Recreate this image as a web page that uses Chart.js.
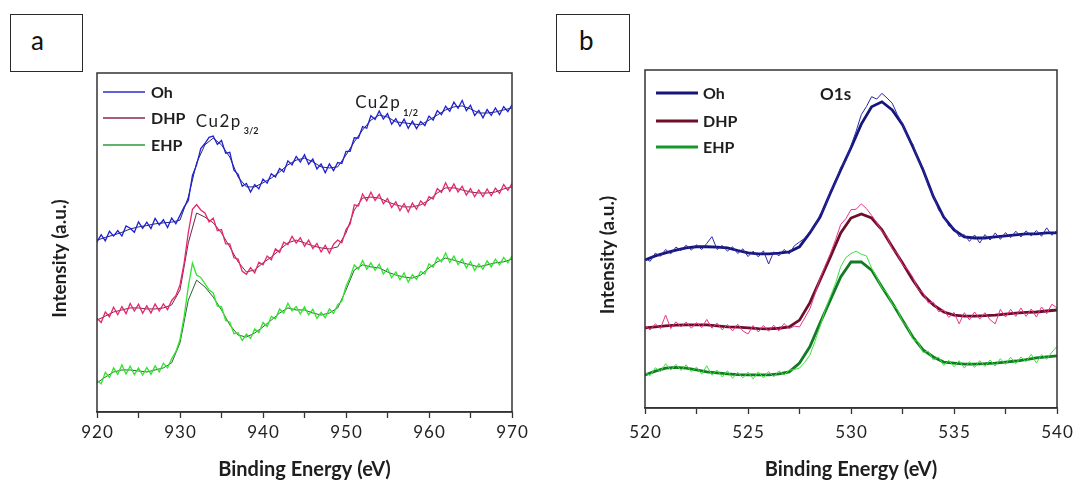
<!DOCTYPE html>
<html>
<head>
<meta charset="utf-8">
<script src="https://cdn.jsdelivr.net/npm/chart.js@4.4.1/dist/chart.umd.min.js"></script>
<style>
  body { margin: 0; background: #fff; width: 1073px; height: 482px; overflow: hidden; position: relative; font-family: Lato, sans-serif; }
  .panel { position: absolute; top: 0; height: 482px; }
  .tag { position: absolute; top: 14px; height: 58px; border: 1.6px solid #2a2a2a; box-sizing: border-box;
         font: 26px Lato, sans-serif; color: #111; line-height: 50px; }
</style>
</head>
<body>
<div class="tag" style="left:10px;width:73px;padding-left:20px">a</div>
<div class="tag" style="left:556px;width:74px;padding-left:22px">b</div>
<div class="panel" style="left:0;width:540px"><canvas id="cuChart" width="540" height="482"></canvas></div>
<div class="panel" style="left:540px;width:533px"><canvas id="oChart" width="533" height="482"></canvas></div>
<script>
// ---- panel a: Cu 2p ----
// fitted envelopes, 1 eV steps from 920 to 970
const ohFitA  = [50.7, 51.5, 52.2, 53.0, 54.0, 54.6, 55.0, 55.5, 55.8, 56.0,
                 56.6, 63.4, 73.5, 78.8, 80.8, 78.8, 75.2, 69.3, 66.4, 66.4,
                 67.6, 69.0, 70.8, 72.9, 74.3, 74.9, 73.8, 72.3, 72.0, 72.3,
                 75.8, 79.7, 83.2, 86.1, 87.6, 87.0, 85.6, 85.3, 85.0, 84.7,
                 86.1, 87.6, 89.1, 90.0, 90.3, 89.4, 88.2, 88.2, 88.5, 89.1, 89.7];
const dhpFitA = [27.1, 28.3, 29.5, 30.1, 30.7, 30.7, 30.4, 30.4, 30.7, 31.6,
                 36.0, 49.9, 58.7, 57.5, 55.8, 52.8, 48.7, 44.3, 41.3, 41.9,
                 44.0, 45.7, 47.8, 49.9, 50.7, 49.9, 49.0, 48.4, 48.1, 48.7,
                 52.8, 59.6, 63.1, 63.4, 63.1, 62.0, 61.1, 60.5, 60.5, 61.1,
                 62.5, 64.6, 66.1, 66.1, 65.5, 64.9, 64.6, 64.6, 64.9, 65.8, 66.4];
const ehpFitA = [8.6, 10.3, 11.8, 12.4, 12.4, 12.1, 11.8, 12.4, 13.0, 14.5,
                 20.4, 33.0, 38.9, 36.9, 33.9, 30.1, 25.7, 22.7, 22.1, 23.3,
                 25.1, 27.1, 29.2, 30.7, 30.1, 30.1, 29.2, 28.6, 29.2, 30.7,
                 36.0, 41.9, 43.4, 42.8, 42.5, 41.3, 40.4, 39.8, 39.5, 40.4,
                 42.5, 44.3, 45.4, 44.8, 44.0, 43.4, 42.8, 43.4, 44.0, 44.3, 45.1];
// measured spectra, 0.5 eV steps from 920 to 970
const ohRawA  = [50.2, 52.3, 50.5, 53.3, 51.9, 53.5, 51.9, 54.9, 54.2, 53.0,
                 56.1, 54.2, 56.0, 54.1, 57.1, 55.2, 56.7, 54.4, 57.2, 55.5,
                 58.0, 60.5, 62.4, 69.8, 72.9, 77.7, 79.2, 81.0, 81.4, 78.9,
                 80.1, 76.3, 76.6, 71.3, 70.1, 66.6, 67.4, 64.9, 67.1, 65.8,
                 68.7, 67.5, 70.3, 69.3, 71.8, 70.8, 74.1, 72.9, 75.4, 73.7,
                 75.9, 73.1, 74.6, 71.7, 73.2, 70.6, 73.2, 71.2, 73.6, 73.3,
                 76.9, 76.9, 80.9, 80.8, 84.2, 83.7, 87.4, 86.3, 88.8, 86.4,
                 88.0, 84.9, 86.5, 84.3, 86.4, 83.7, 85.8, 83.6, 85.7, 84.5,
                 87.3, 86.1, 88.9, 87.7, 90.2, 88.7, 91.4, 89.6, 91.9, 88.9,
                 90.5, 87.5, 89.0, 86.8, 89.2, 87.5, 89.7, 87.7, 90.1, 88.6, 90.6];
const dhpRawA = [27.7, 26.4, 29.5, 28.1, 30.9, 28.7, 31.1, 29.0, 32.0, 29.8,
                 31.8, 29.1, 31.3, 29.2, 31.9, 29.8, 31.9, 30.2, 32.9, 34.3,
                 37.5, 44.0, 52.9, 59.8, 61.2, 59.6, 58.7, 56.1, 57.2, 53.5,
                 53.8, 49.6, 49.6, 45.5, 45.1, 41.5, 40.6, 42.6, 41.0, 44.2,
                 43.4, 46.0, 44.9, 48.1, 47.1, 50.1, 49.4, 51.8, 49.8, 51.4,
                 48.9, 50.7, 48.2, 49.7, 47.2, 49.2, 46.8, 49.5, 50.7, 49.9,
                 53.8, 55.5, 61.1, 60.8, 64.3, 62.3, 64.8, 62.4, 64.2, 61.4,
                 63.0, 60.3, 62.0, 59.4, 61.5, 59.0, 61.6, 59.8, 62.3, 60.9,
                 63.5, 62.8, 65.9, 64.8, 67.6, 65.1, 67.3, 64.9, 66.6, 64.0,
                 65.9, 63.5, 65.5, 63.5, 65.8, 63.8, 66.0, 64.5, 67.1, 65.4, 67.4];
const ehpRawA = [9.4, 8.3, 11.7, 10.2, 13.0, 11.1, 13.9, 11.2, 13.5, 11.0,
                 13.0, 10.9, 13.1, 11.1, 13.6, 11.8, 14.4, 13.0, 15.7, 17.8,
                 21.4, 28.2, 37.0, 43.9, 40.4, 39.7, 37.9, 36.0, 35.1, 31.2,
                 31.1, 27.0, 26.5, 23.1, 23.4, 21.1, 23.0, 21.7, 24.5, 23.4,
                 26.4, 25.2, 28.2, 27.5, 30.4, 29.2, 32.1, 29.8, 31.1, 28.9,
                 31.0, 28.7, 30.3, 27.6, 29.4, 27.8, 30.4, 29.1, 31.7, 32.7,
                 37.1, 39.8, 43.4, 42.1, 44.7, 42.1, 44.0, 41.8, 43.6, 40.7,
                 42.3, 39.6, 41.3, 39.0, 41.0, 38.3, 40.5, 39.1, 41.5, 40.7,
                 43.7, 42.7, 45.6, 44.3, 46.9, 44.1, 46.0, 43.5, 45.1, 42.5,
                 44.4, 41.8, 43.7, 42.1, 44.6, 42.8, 45.1, 43.4, 45.6, 44.0, 46.1];

// ---- panel b: O 1s ----
// fitted envelopes, 0.5 eV steps from 520 to 540
const ohFitB  = [43.8, 45.0, 45.9, 46.7, 47.4, 47.7, 47.7, 47.6, 47.4, 46.6,
                 45.9, 45.6, 45.6, 45.8, 46.2, 47.7, 51.8, 56.5, 63.6, 70.4,
                 77.0, 84.0, 89.1, 90.6, 88.2, 83.8, 77.3, 70.4, 62.5, 56.5,
                 52.7, 50.6, 50.3, 50.3, 50.6, 50.9, 51.2, 51.5, 51.5, 51.8, 51.8];
const dhpFitB = [23.7, 24.0, 24.3, 24.5, 24.6, 24.6, 24.6, 24.3, 24.0, 23.9,
                 23.7, 23.5, 23.4, 23.6, 24.0, 26.0, 31.1, 37.9, 44.7, 51.8,
                 56.2, 57.4, 56.2, 52.7, 47.7, 42.9, 37.9, 33.4, 30.5, 28.4,
                 27.5, 27.2, 27.2, 27.3, 27.5, 27.8, 28.1, 28.3, 28.4, 28.7, 29.0];
const ehpFitB = [9.8, 10.9, 11.8, 12.0, 11.8, 11.3, 10.7, 10.4, 10.1, 9.9,
                 9.8, 9.8, 9.8, 10.1, 10.7, 13.3, 18.1, 25.2, 32.0, 38.8,
                 43.2, 43.2, 40.8, 35.8, 31.1, 26.0, 21.0, 17.2, 15.1, 13.6,
                 13.3, 13.0, 13.0, 13.1, 13.3, 13.6, 13.9, 14.3, 14.8, 15.1, 15.4];
// measured spectra, 0.25 eV steps from 520 to 540
const ohRawB  = [44.3, 43.4, 45.8, 44.9, 46.9, 45.6, 47.6, 46.6, 48.2, 46.7, 48.3, 46.9,
                 48.7, 50.7, 46.9, 48.1, 46.4, 47.7, 45.7, 47.1, 44.8, 46.4, 44.7, 46.5,
                 42.6, 46.2, 45.0, 46.9, 45.6, 48.0, 49.1, 50.2, 52.1, 53.8, 57.2, 59.6,
                 64.2, 66.6, 71.2, 73.2, 77.6, 81.9, 86.8, 89.2, 92.1, 91.4, 93.1, 91.7,
                 90.2, 86.8, 84.1, 80.0, 78.1, 73.4, 71.0, 65.8, 63.0, 58.6, 56.9, 53.8,
                 53.3, 50.7, 51.3, 49.3, 51.2, 48.8, 51.3, 49.7, 51.8, 49.9, 51.9, 50.4,
                 52.3, 50.6, 52.4, 50.9, 52.5, 50.8, 53.3, 51.1, 52.6];
const dhpRawB = [24.3, 23.1, 24.9, 23.5, 27.5, 23.5, 25.5, 24.0, 25.4, 23.6, 25.3, 23.8,
                 26.2, 23.6, 25.1, 23.1, 24.7, 22.8, 24.8, 22.8, 21.9, 24.4, 22.5, 24.4,
                 22.7, 24.5, 22.8, 25.0, 23.5, 24.2, 24.0, 26.6, 29.3, 33.7, 38.4, 42.1,
                 45.7, 49.8, 54.3, 56.0, 58.7, 58.8, 60.4, 59.0, 57.0, 54.8, 52.3, 50.7,
                 47.1, 45.7, 42.4, 41.0, 38.7, 35.1, 34.1, 31.1, 31.3, 28.5, 29.0, 26.8,
                 28.3, 24.9, 28.2, 26.1, 28.4, 26.3, 28.2, 26.1, 24.9, 29.2, 26.9, 29.2,
                 27.1, 29.6, 27.1, 29.3, 26.9, 29.9, 27.9, 30.7, 29.6];
const ehpRawB = [10.5, 9.6, 11.9, 10.8, 13.1, 11.2, 12.9, 11.1, 12.8, 10.7, 12.1, 10.0,
                 12.5, 9.7, 11.2, 9.2, 11.0, 8.8, 10.6, 8.9, 10.6, 8.6, 10.7, 8.9,
                 10.8, 9.2, 11.0, 9.8, 11.2, 11.4, 11.8, 13.5, 15.6, 19.7, 24.2, 29.1,
                 33.0, 36.9, 41.8, 44.5, 45.7, 46.4, 45.5, 45.0, 41.4, 38.7, 35.5, 34.0,
                 30.7, 29.2, 25.5, 23.9, 20.4, 19.6, 16.4, 16.8, 14.2, 15.1, 12.6, 14.1,
                 12.2, 14.0, 11.8, 13.7, 12.0, 14.0, 12.3, 14.2, 12.4, 14.6, 12.9, 15.0,
                 13.1, 15.1, 13.7, 15.9, 13.3, 15.8, 14.4, 16.5, 18.2];

const seriesNames = ['Oh', 'DHP', 'EHP'];

// energy sampling grids
const grid = (start, step, n) => Array.from({length: n}, (_, i) => +(start + i * step).toFixed(2));
const pts = (xs, ys) => xs.map((x, i) => ({x: x, y: ys[i]}));
const spaced = v => String(v).split('').join('\u200A');

const eFitA = grid(920, 1, ohFitA.length);
const eRawA = grid(920, 0.5, ohRawA.length);
const eFitB = grid(520, 0.5, ohFitB.length);
const eRawB = grid(520, 0.25, ohRawB.length);

function line(data, color, width) {
  return { data: data, borderColor: color, borderWidth: width, pointRadius: 0, tension: 0, fill: false };
}

// frame, in-plot legend, peak labels and y title
const decor = {
  id: 'decor',
  afterDraw(chart, args, o) {
    const ctx = chart.ctx, a = chart.chartArea, xs = chart.scales.x, ys = chart.scales.y;
    ctx.save();
    ctx.strokeStyle = '#333';
    ctx.lineWidth = 1.5;
    ctx.strokeRect(a.left, a.top, a.right - a.left, a.bottom - a.top);

    ctx.textBaseline = 'middle';
    ctx.textAlign = 'left';
    ctx.font = 'bold 16px Lato';
    o.legend.forEach((it, i) => {
      const y = a.top + o.legendY[i];
      ctx.strokeStyle = it.color;
      ctx.lineWidth = o.legendWidth;
      ctx.beginPath();
      ctx.moveTo(a.left + o.legendX[0], y);
      ctx.lineTo(a.left + o.legendX[1], y);
      ctx.stroke();
      ctx.fillStyle = '#1e1e1e';
      ctx.fillText(seriesNames[i], a.left + o.legendX[2], y + 1);
    });

    o.notes.forEach(n => {
      const x = xs.getPixelForValue(n.e), y = ys.getPixelForValue(n.v);
      ctx.font = n.font;
      ctx.letterSpacing = n.spacing || '0px';
      ctx.fillStyle = '#1e1e1e';
      ctx.fillText(n.text, x, y);
      const w = ctx.measureText(n.text).width;
      if (n.sub) {
        ctx.font = 'bold 9px Lato';
        ctx.letterSpacing = '0px';
        ctx.fillText(n.sub, x + w + 2, y + 10);
      }
    });
    ctx.letterSpacing = '0px';

    ctx.translate(a.left - 37, (a.top + a.bottom) / 2 + 16);
    ctx.rotate(-Math.PI / 2);
    ctx.textAlign = 'center';
    ctx.font = 'bold 19px Lato';
    ctx.fillStyle = '#1e1e1e';
    ctx.fillText('Intensity (a.u.)', 0, 0);
    ctx.restore();
  }
};

function options(min, max, step, major, pad, axisH, tickPad, decorOpts) {
  return {
    animation: false,
    responsive: false,
    layout: { padding: pad },
    plugins: { legend: { display: false }, tooltip: { enabled: false }, decor: decorOpts },
    scales: {
      x: {
        type: 'linear', min: min, max: max,
        afterFit: s => { s.height = axisH; s.paddingLeft = 0; s.paddingRight = 0; },
        grid: { drawOnChartArea: false, color: '#333', tickLength: 6, tickWidth: 1.3 },
        border: { display: true, color: '#333', width: 1.5 },
        ticks: {
          stepSize: step, autoSkip: false, maxRotation: 0, padding: tickPad,
          color: '#222', font: { family: 'Lato', size: 17 },
          callback: v => (v % major === 0 ? spaced(v) : '')
        },
        title: { display: true, text: 'Binding Energy (eV)', color: '#1e1e1e',
                 font: { family: 'Lato', size: 20, weight: 'bold' }, padding: { top: 0, bottom: 0 } }
      },
      y: { display: false, min: 0, max: 100 }
    }
  };
}

new Chart(document.getElementById('cuChart'), {
  type: 'line',
  plugins: [decor],
  data: {
    datasets: [
      line(pts(eRawA, ohRawA), '#1f1fd6', 1.3),
      line(pts(eRawA, dhpRawA), '#e8266e', 1.3),
      line(pts(eRawA, ehpRawA), '#2ee62e', 1.3),
      line(pts(eFitA, ohFitA), '#0c0c55', 0.9),
      line(pts(eFitA, dhpFitA), '#5a1030', 0.9),
      line(pts(eFitA, ehpFitA), '#1e4a1e', 0.9)
    ]
  },
  options: options(920, 970, 5, 10, { left: 97, right: 28, top: 73, bottom: 0 }, 70, 4, {
    legend: [{ color: '#2b2bcf' }, { color: '#8e2650' }, { color: '#2a9a3a' }],
    legendX: [6, 48, 54], legendY: [19, 45, 72], legendWidth: 1.3,
    notes: [
      { text: 'Cu2p', sub: '3/2', e: 931.9, v: 85.8, font: '17px Lato', spacing: '1.5px' },
      { text: 'Cu2p', sub: '1/2', e: 951.1, v: 91.2, font: '17px Lato', spacing: '1.5px' }
    ]
  })
});

new Chart(document.getElementById('oChart'), {
  type: 'line',
  plugins: [decor],
  data: {
    datasets: [
      line(pts(eRawB, ohRawB), '#2a2aa6', 1),
      line(pts(eRawB, dhpRawB), '#e8348a', 1),
      line(pts(eRawB, ehpRawB), '#3ee03e', 1),
      line(pts(eFitB, ohFitB), '#15157a', 2.8),
      line(pts(eFitB, dhpFitB), '#6e0f2a', 2.8),
      line(pts(eFitB, ehpFitB), '#137a25', 2.8)
    ]
  },
  options: options(520, 540, 2.5, 5, { left: 105, right: 16, top: 70, bottom: 0 }, 74, 8, {
    legend: [{ color: '#15157a' }, { color: '#6e0f2a' }, { color: '#139a2a' }],
    legendX: [11, 53, 58], legendY: [23, 51, 77], legendWidth: 3,
    notes: [
      { text: 'O1s', e: 528.5, v: 92.6, font: 'bold 17px Lato' }
    ]
  })
});
</script>
</body>
</html>
